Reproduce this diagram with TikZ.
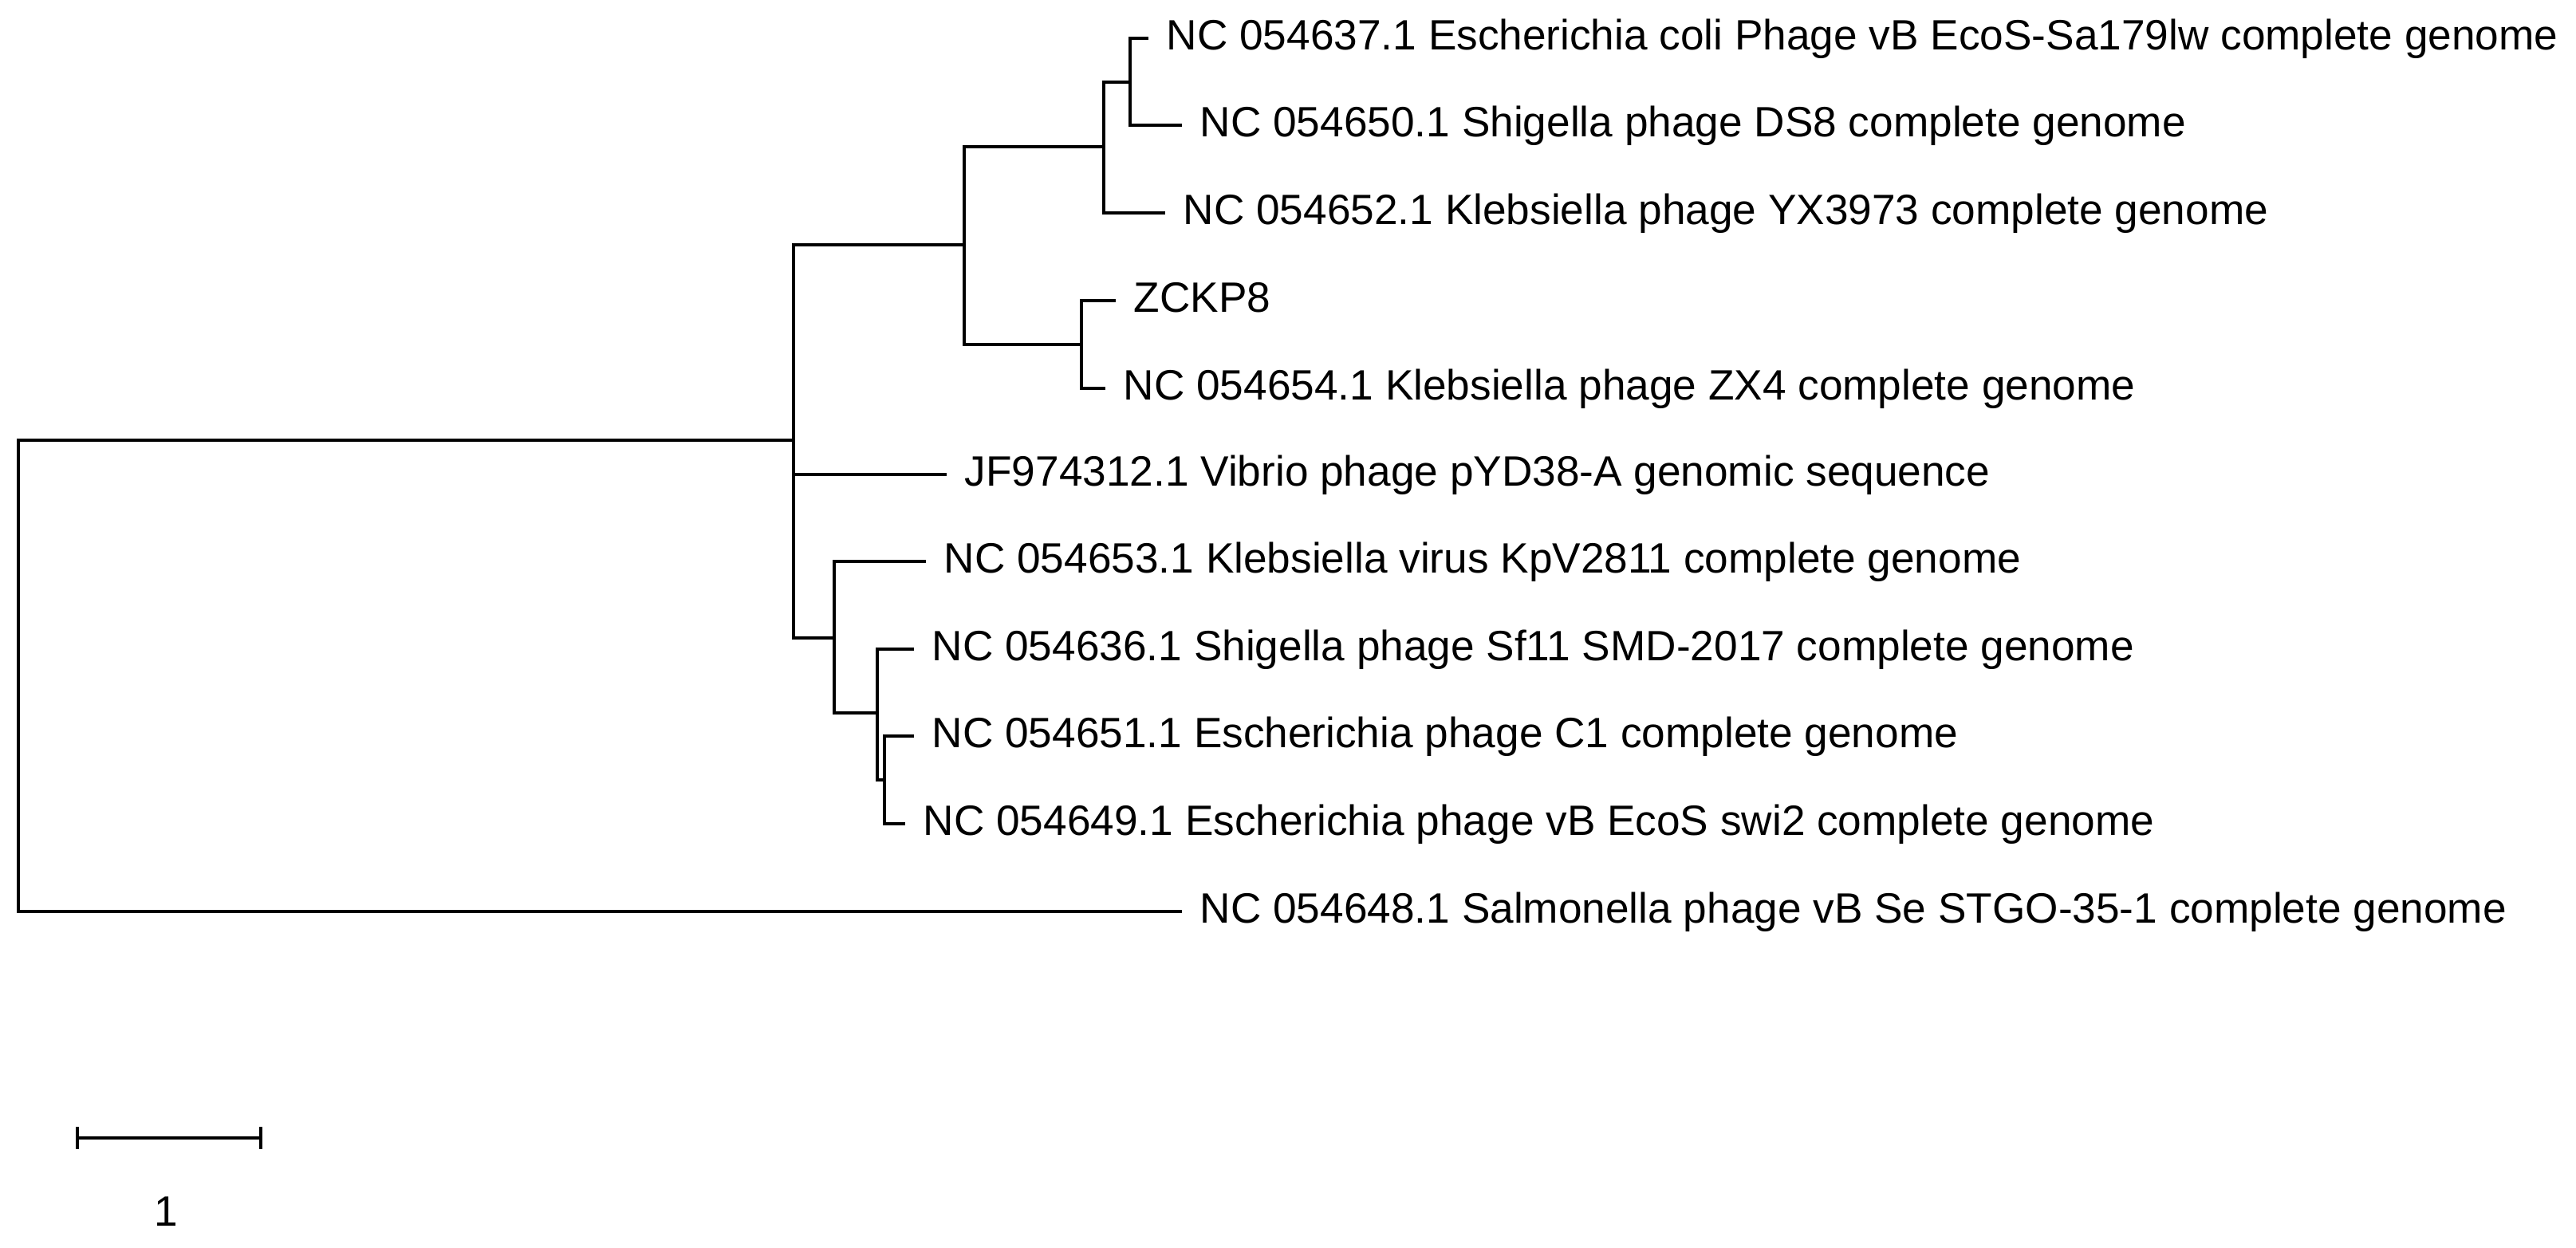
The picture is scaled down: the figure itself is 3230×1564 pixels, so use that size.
\documentclass[tikz,border=0pt]{standalone}
\usepackage{fontspec}
\setmainfont{Liberation Sans}
\begin{document}
\begin{tikzpicture}[x=0.25pt,y=-0.25pt,
  br/.style={line width=0.95pt, line join=miter, line cap=rect, black},
  lbl/.style={anchor=west, inner sep=0pt, text height=0.716em, text depth=0pt, xshift=6pt, font=\fontsize{13.3}{16}\selectfont}]
\useasboundingbox (0,0) rectangle (3230,1564);
% internal nodes
\coordinate (R) at (23,847);
\coordinate (M) at (995,552);
\coordinate (A) at (1209,307);
\coordinate (B) at (1384,184);
\coordinate (C) at (1417,103);
\coordinate (D) at (1356,432);
\coordinate (E) at (1046,800);
\coordinate (F) at (1100,894);
\coordinate (G) at (1109,978);
% leaf tips
\coordinate (t1) at (1438,48);
\coordinate (t2) at (1480,157);
\coordinate (t3) at (1459,267);
\coordinate (t4) at (1397,377);
\coordinate (t5) at (1384,487);
\coordinate (t6) at (1185,595);
\coordinate (t7) at (1159,704);
\coordinate (t8) at (1144,814);
\coordinate (t9) at (1144,923);
\coordinate (t10) at (1133,1033);
\coordinate (t11) at (1480,1143);
% branches
\draw[br] (M) -| (R) |- (t11);
\draw[br] (A) -| (M) |- (E);
\draw[br] (M |- t6) -- (t6);
\draw[br] (B) -| (A) |- (D);
\draw[br] (C) -| (B) |- (t3);
\draw[br] (t1) -| (C) |- (t2);
\draw[br] (t4) -| (D) |- (t5);
\draw[br] (t7) -| (E) |- (F);
\draw[br] (t8) -| (F) |- (G);
\draw[br] (t9) -| (G) |- (t10);
% labels
\node[lbl] (l1) at (t1) {NC 054637.1 Escherichia coli Phage vB EcoS-Sa179lw complete genome};
\node[lbl] (l2) at (t2) {NC 054650.1 Shigella phage DS8 complete genome};
\node[lbl] (l3) at (t3) {NC 054652.1 Klebsiella phage YX3973 complete genome};
\node[lbl] (l4) at (t4) {ZCKP8};
\node[lbl] (l5) at (t5) {NC 054654.1 Klebsiella phage ZX4 complete genome};
\node[lbl] (l6) at (t6) {JF974312.1 Vibrio phage pYD38-A genomic sequence};
\node[lbl] (l7) at (t7) {NC 054653.1 Klebsiella virus KpV2811 complete genome};
\node[lbl] (l8) at (t8) {NC 054636.1 Shigella phage Sf11 SMD-2017 complete genome};
\node[lbl] (l9) at (t9) {NC 054651.1 Escherichia phage C1 complete genome};
\node[lbl] (l10) at (t10) {NC 054649.1 Escherichia phage vB EcoS swi2 complete genome};
\node[lbl] (l11) at (t11) {NC 054648.1 Salmonella phage vB Se STGO-35-1 complete genome};
% scale bar
\coordinate (s1) at (97,1427);
\coordinate (s2) at (327,1427);
\draw[br, line cap=butt] (s1) -- (s2);
\draw[br, line cap=butt] ([yshift=3.5pt]s1) -- ([yshift=-3.5pt]s1);
\draw[br, line cap=butt] ([yshift=3.5pt]s2) -- ([yshift=-3.5pt]s2);
\node[inner sep=0pt, text height=0.716em, text depth=0pt, font=\fontsize{13.3}{16}\selectfont] (sl) at (208,1523) {1};
\end{tikzpicture}
\end{document}
